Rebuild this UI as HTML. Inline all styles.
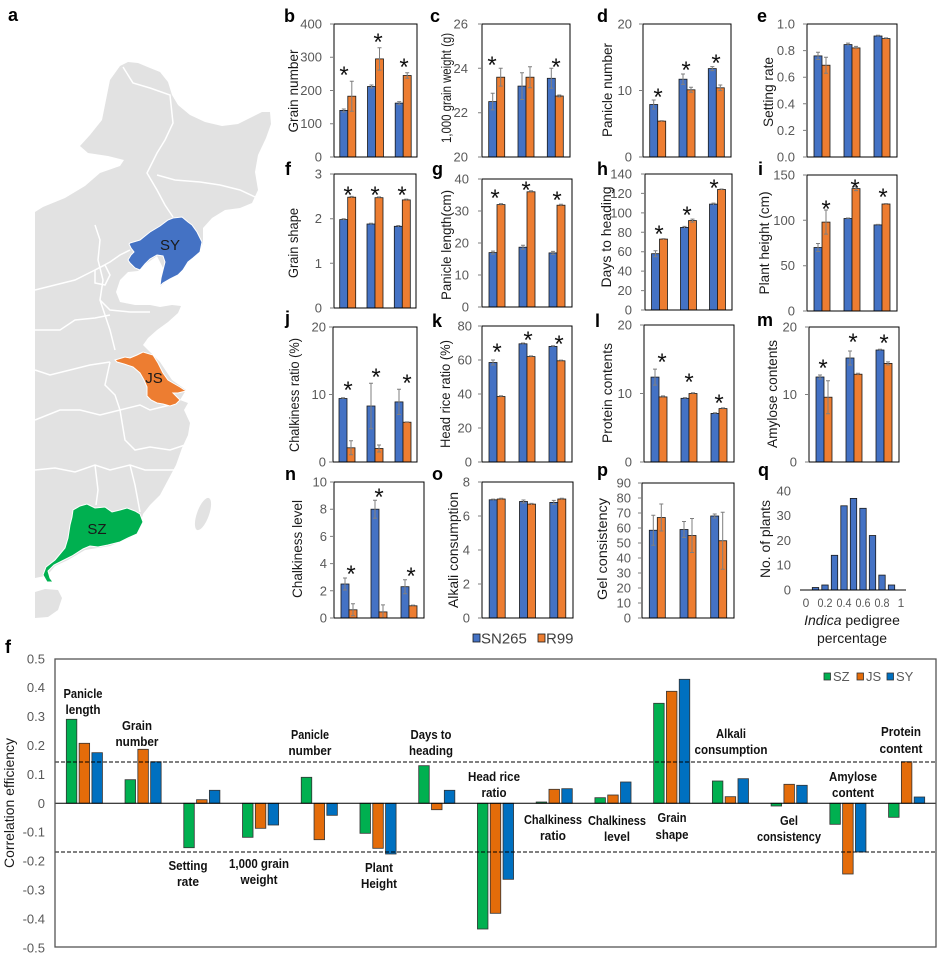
<!DOCTYPE html>
<html><head><meta charset="utf-8"><style>
html,body{margin:0;padding:0;background:#fff;}
svg{display:block;font-family:"Liberation Sans",Arial,sans-serif;}
.tl{font-size:13px;fill:#595959;text-anchor:end;}
.yt{font-size:14px;fill:#1a1a1a;text-anchor:middle;}
.pl{font-size:18px;font-weight:bold;fill:#000;}
.st{font-size:24px;fill:#111;text-anchor:middle;}
.box{fill:none;stroke:#000;stroke-width:1;}
.bl{fill:#4472C4;stroke:#1a1a1a;stroke-width:0.8;}
.or{fill:#ED7D31;stroke:#1a1a1a;stroke-width:0.8;}
.eb{fill:none;stroke:#7f7f7f;stroke-width:1;}
.tk{stroke:#7f7f7f;stroke-width:1;}
.cl{font-size:13px;font-weight:bold;fill:#111;text-anchor:middle;}
.g{fill:#00B050;stroke:#333;stroke-width:0.8;}
.o2{fill:#E46C0A;stroke:#333;stroke-width:0.8;}
.b2{fill:#0070C0;stroke:#333;stroke-width:0.8;}
</style></head><body>
<svg width="944" height="958" viewBox="0 0 944 958" xmlns="http://www.w3.org/2000/svg">
<rect width="944" height="958" fill="#fff"/>

<!-- ===== Map (a) ===== -->
<text class="pl" x="8" y="21">a</text>
<polygon fill="#e2e2e2" points="120,66 128,62 138,63 150,68 160,72 168,82 172,95 178,105 190,115 205,122 222,126 238,124 250,118 262,112 270,112 271,124 266,138 258,155 255,172 258,190 252,203 240,208 225,210 212,218 203,228 203,242 200,252 190,260 180,273 167,280 160,287 163,268 157,256 147,263 138,271 128,272 120,280 116,292 120,302 135,305 150,305 160,307 172,305 181,306 178,313 168,322 157,330 148,338 143,345 150,352 160,362 172,380 186,390 180,400 188,403 184,410 190,423 188,435 182,448 176,465 168,480 160,495 150,505 143,514 140,525 130,538 110,546 85,550 68,560 55,566 50,572 45,576 35,578 35,212 43,207 65,198 85,186 100,173 120,166 124,160 108,156 88,153 80,146 90,135 102,120 106,100 110,80"/>
<polygon fill="#e2e2e2" points="35,592 45,589 58,590 62,598 58,610 48,617 35,618"/>
<ellipse cx="203" cy="514" rx="6" ry="17" transform="rotate(20 203 514)" fill="#e2e2e2"/>
<g fill="none" stroke="#fff" stroke-width="1.5">
<polyline points="123,67 133,83 150,88 170,95 173,123 165,140 157,153 147,173 157,190 165,205 173,217"/>
<polyline points="157,175 175,180 200,182 220,185 240,190 255,197"/>
<polyline points="35,290 55,285 75,280 95,270 110,262 120,255 130,250"/>
<polyline points="95,225 100,240 98,260 103,280 100,300 110,310 130,312 150,312"/>
<polyline points="35,330 60,330 75,320 95,318 110,315"/>
<polyline points="100,300 110,330 115,350"/>
<polyline points="35,370 50,375 70,370 90,365 110,362"/>
<polyline points="110,362 105,385 115,395 120,410 140,405 150,410 170,405"/>
<polyline points="35,420 60,410 80,410 100,415 120,410"/>
<polyline points="120,410 125,440 135,450 150,447 170,450 185,445"/>
<polyline points="35,470 55,468 75,472 95,465 110,470 130,465 145,470 160,470 175,470"/>
<polyline points="95,465 98,490 96,505"/>
<polyline points="130,465 135,485 140,512"/>
<polyline points="95,270 105,265 110,275 105,285 95,283 95,270"/>
</g>
<polygon fill="#4472C4" stroke="#fff" stroke-width="1" points="130,243 140,240 145,236 150,232 160,226 168,220 173,218 182,217 188,222 192,225 197,232 202,242 200,252 193,258 188,262 183,270 178,275 170,279 163,283 160,286 161,278 163,270 165,262 163,256 157,255 150,259 145,264 140,270 135,268 130,263 128,260 131,255 134,252 131,248 129,244"/>
<polygon fill="#ED7D31" stroke="#fff" stroke-width="1" points="115,360 125,357 130,358 137,355 143,352 153,355 158,363 163,373 168,380 173,383 180,387 186,391 178,393 173,393 180,400 176,404 170,406 163,404 157,403 151,400 147,396 147,387 144,380 140,373 133,367 124,364 117,362"/>
<polygon fill="#00B050" stroke="#fff" stroke-width="1" points="73,510 80,506 87,504 95,508 105,507 112,512 120,510 127,508 135,511 140,514 143,522 137,534 128,538 120,542 108,545 98,547 90,546 83,549 72,556 62,561 54,565 48,571 50,578 53,582 47,582 43,575 46,567 55,560 65,548 68,538 70,525 72,517"/>
<text x="170" y="250" font-size="15" text-anchor="middle" fill="#1a1a1a">SY</text>
<text x="154" y="383" font-size="15" text-anchor="middle" fill="#1a1a1a">JS</text>
<text x="97" y="534" font-size="15" text-anchor="middle" fill="#1a1a1a">SZ</text>

<!-- ===== Panel letters ===== -->
<text class="pl" x="284" y="22">b</text>
<text class="pl" x="430" y="22">c</text>
<text class="pl" x="597" y="22">d</text>
<text class="pl" x="757" y="22">e</text>
<text class="pl" x="285" y="175">f</text>
<text class="pl" x="432" y="175">g</text>
<text class="pl" x="597" y="175">h</text>
<text class="pl" x="758" y="175">i</text>
<text class="pl" x="285" y="324">j</text>
<text class="pl" x="432" y="327">k</text>
<text class="pl" x="595" y="327">l</text>
<text class="pl" x="757" y="326">m</text>
<text class="pl" x="285" y="480">n</text>
<text class="pl" x="432" y="480">o</text>
<text class="pl" x="597" y="476">p</text>
<text class="pl" x="758" y="476">q</text>

<!-- ===== Panel b ===== -->
<rect class="bl" x="339.8" y="110.4" width="8" height="46.6"/>
<rect class="bl" x="367.5" y="86.5" width="8" height="70.5"/>
<rect class="bl" x="395.2" y="103.1" width="8" height="53.9"/>
<rect class="or" x="347.8" y="96.2" width="8" height="60.8"/>
<rect class="or" x="375.5" y="58.9" width="8" height="98.1"/>
<rect class="or" x="403.2" y="75.5" width="8" height="81.5"/>
<path class="eb" d="M343.8 109V112M341.8 109h4M341.8 112h4M371.5 85V88M369.5 85h4M369.5 88h4M399.2 101.6V104.6M397.2 101.6h4M397.2 104.6h4M351.8 81.2V111.2M349.8 81.2h4M349.8 111.2h4M379.5 47.7V70.1M377.5 47.7h4M377.5 70.1h4M407.2 72.7V78.3M405.2 72.7h4M405.2 78.3h4"/>
<rect class="box" x="334" y="24" width="83" height="133"/>
<path class="tk" d="M330 24h4M330 57.25h4M330 90.5h4M330 123.75h4M330 157h4"/>
<text class="tl" x="322" y="28.5">400</text><text class="tl" x="322" y="61.7">300</text><text class="tl" x="322" y="95">200</text><text class="tl" x="322" y="128.2">100</text><text class="tl" x="322" y="161.5">0</text>
<text class="yt" transform="translate(298,91) rotate(-90)" textLength="83" lengthAdjust="spacingAndGlyphs">Grain number</text>
<text class="st" x="344" y="83">*</text><text class="st" x="378" y="50">*</text><text class="st" x="404" y="75">*</text>

<!-- ===== Panel c ===== -->
<rect class="bl" x="488.7" y="101.6" width="8" height="55.4"/>
<rect class="bl" x="518" y="86.1" width="8" height="70.9"/>
<rect class="bl" x="547.3" y="78.3" width="8" height="78.7"/>
<rect class="or" x="496.7" y="77.2" width="8" height="79.8"/>
<rect class="or" x="526" y="77.2" width="8" height="79.8"/>
<rect class="or" x="555.3" y="96" width="8" height="61"/>
<path class="eb" d="M492.7 93.3V109.9M490.7 93.3h4M490.7 109.9h4M522 72.7V99.5M520 72.7h4M520 99.5h4M551.3 68.3V88.3M549.3 68.3h4M549.3 88.3h4M500.7 68.3V86.1M498.7 68.3h4M498.7 86.1h4M530 66.7V87.7M528 66.7h4M528 87.7h4M559.3 95V97M557.3 95h4M557.3 97h4"/>
<rect class="box" x="482" y="24" width="88" height="133"/>
<path class="tk" d="M478 24h4M478 68.3h4M478 112.7h4M478 157h4"/>
<text class="tl" x="468" y="28.5">26</text><text class="tl" x="468" y="72.8">24</text><text class="tl" x="468" y="117.2">22</text><text class="tl" x="468" y="161.5">20</text>
<text class="yt" transform="translate(451,88) rotate(-90)" textLength="110" lengthAdjust="spacingAndGlyphs">1,000 grain weight (g)</text>
<text class="st" x="492" y="73">*</text><text class="st" x="556" y="75">*</text>

<!-- ===== Panel d ===== -->
<rect class="bl" x="649.7" y="104.5" width="8" height="52.5"/>
<rect class="bl" x="679" y="79.2" width="8" height="77.8"/>
<rect class="bl" x="708.3" y="68.6" width="8" height="88.4"/>
<rect class="or" x="657.7" y="121.1" width="8" height="35.9"/>
<rect class="or" x="687" y="89.8" width="8" height="67.2"/>
<rect class="or" x="716.3" y="87.8" width="8" height="69.2"/>
<path class="eb" d="M653.7 100V109M651.7 100h4M651.7 109h4M683 74V84.4M681 74h4M681 84.4h4M712.3 66.6V70.6M710.3 66.6h4M710.3 70.6h4M661.7 120.6V121.6M659.7 120.6h4M691 87.3V92.3M689 87.3h4M689 92.3h4M720.3 85V90.6M718.3 85h4M718.3 90.6h4"/>
<rect class="box" x="643" y="24" width="88" height="133"/>
<path class="tk" d="M639 24h4M639 90.5h4M639 157h4"/>
<text class="tl" x="632" y="28.5">20</text><text class="tl" x="632" y="95">10</text><text class="tl" x="632" y="161.5">0</text>
<text class="yt" transform="translate(612,90) rotate(-90)" textLength="94" lengthAdjust="spacingAndGlyphs">Panicle number</text>
<text class="st" x="658" y="105">*</text><text class="st" x="686" y="78">*</text><text class="st" x="716" y="71">*</text>

<!-- ===== Panel e ===== -->
<rect class="bl" x="814" y="55.9" width="8" height="101.1"/>
<rect class="bl" x="844" y="44.6" width="8" height="112.4"/>
<rect class="bl" x="874" y="36" width="8" height="121"/>
<rect class="or" x="822" y="65.2" width="8" height="91.8"/>
<rect class="or" x="852" y="47.9" width="8" height="109.1"/>
<rect class="or" x="882" y="38.6" width="8" height="118.4"/>
<path class="eb" d="M818 52.3V59.5M816 52.3h4M816 59.5h4M848 43.1V46.1M846 43.1h4M878 35.3V36.7M876 35.3h4M826 57.2V73.2M824 57.2h4M824 73.2h4M856 46.4V49.4M854 46.4h4M886 37.9V39.3M884 37.9h4"/>
<rect class="box" x="807" y="24" width="90" height="133"/>
<path class="tk" d="M803 24h4M803 50.6h4M803 77.2h4M803 103.8h4M803 130.4h4M803 157h4"/>
<text class="tl" x="795" y="28.5">1.0</text><text class="tl" x="795" y="55.1">0.8</text><text class="tl" x="795" y="81.7">0.6</text><text class="tl" x="795" y="108.3">0.4</text><text class="tl" x="795" y="134.9">0.2</text><text class="tl" x="795" y="161.5">0.0</text>
<text class="yt" transform="translate(773,92) rotate(-90)" textLength="70" lengthAdjust="spacingAndGlyphs">Setting rate</text>

<!-- ===== Panel f ===== -->
<rect class="bl" x="339.7" y="219.6" width="8" height="88.4"/>
<rect class="bl" x="367" y="224" width="8" height="84"/>
<rect class="bl" x="394.3" y="226.3" width="8" height="81.7"/>
<rect class="or" x="347.7" y="197.2" width="8" height="110.8"/>
<rect class="or" x="375" y="197.7" width="8" height="110.3"/>
<rect class="or" x="402.3" y="199.9" width="8" height="108.1"/>
<path class="eb" d="M343.7 218.8V220.4M341.7 218.8h4M371 223.2V224.8M369 223.2h4M398.3 225.5V227.1M396.3 225.5h4M351.7 196.4V198M349.7 196.4h4M379 196.9V198.5M377 196.9h4M406.3 199.1V200.7M404.3 199.1h4"/>
<rect class="box" x="334" y="174" width="82" height="134"/>
<path class="tk" d="M330 174h4M330 218.7h4M330 263.3h4M330 308h4"/>
<text class="tl" x="322" y="178.5">3</text><text class="tl" x="322" y="223.2">2</text><text class="tl" x="322" y="267.8">1</text><text class="tl" x="322" y="312.5">0</text>
<text class="yt" transform="translate(298,243) rotate(-90)" textLength="70" lengthAdjust="spacingAndGlyphs">Grain shape</text>
<text class="st" x="348" y="203">*</text><text class="st" x="375" y="203">*</text><text class="st" x="402" y="203">*</text>

<!-- ===== Panel g ===== -->
<rect class="bl" x="489" y="252.6" width="8" height="54.4"/>
<rect class="bl" x="519" y="247.2" width="8" height="59.8"/>
<rect class="bl" x="549" y="252.9" width="8" height="54.1"/>
<rect class="or" x="497" y="204.6" width="8" height="102.4"/>
<rect class="or" x="527" y="191.8" width="8" height="115.2"/>
<rect class="or" x="557" y="205.2" width="8" height="101.8"/>
<path class="eb" d="M493 251.1V254.1M491 251.1h4M491 254.1h4M523 245.2V249.2M521 245.2h4M521 249.2h4M553 251.4V254.4M551 251.4h4M551 254.4h4M501 203.6V205.6M499 203.6h4M531 190.8V192.8M529 190.8h4M561 204.2V206.2M559 204.2h4"/>
<rect class="box" x="482" y="179" width="90" height="128"/>
<path class="tk" d="M478 179h4M478 211h4M478 243h4M478 275h4M478 307h4"/>
<text class="tl" x="469" y="183.5">40</text><text class="tl" x="469" y="215.5">30</text><text class="tl" x="469" y="247.5">20</text><text class="tl" x="469" y="279.5">10</text><text class="tl" x="469" y="311.5">0</text>
<text class="yt" transform="translate(451,245) rotate(-90)" textLength="110" lengthAdjust="spacingAndGlyphs">Panicle length(cm)</text>
<text class="st" x="495" y="206">*</text><text class="st" x="526" y="198">*</text><text class="st" x="557" y="208">*</text>

<!-- ===== Panel h ===== -->
<rect class="bl" x="651.5" y="253.7" width="8" height="56.3"/>
<rect class="bl" x="680.5" y="227.4" width="8" height="82.6"/>
<rect class="bl" x="709.5" y="204.1" width="8" height="105.9"/>
<rect class="or" x="659.5" y="239.1" width="8" height="70.9"/>
<rect class="or" x="688.5" y="220.6" width="8" height="89.4"/>
<rect class="or" x="717.5" y="189.5" width="8" height="120.5"/>
<path class="eb" d="M655.5 250.7V256.7M653.5 250.7h4M653.5 256.7h4M684.5 226.4V228.4M682.5 226.4h4M713.5 203.1V205.1M711.5 203.1h4M663.5 238.6V239.6M661.5 238.6h4M692.5 219.1V222.1M690.5 219.1h4M690.5 222.1h4M721.5 189V190M719.5 189h4"/>
<rect class="box" x="645" y="174" width="87" height="136"/>
<path class="tk" d="M641 174h4M641 193.4h4M641 212.9h4M641 232.3h4M641 251.7h4M641 271.1h4M641 290.6h4M641 310h4"/>
<text class="tl" x="632" y="178.5">140</text><text class="tl" x="632" y="197.9">120</text><text class="tl" x="632" y="217.4">100</text><text class="tl" x="632" y="236.8">80</text><text class="tl" x="632" y="256.2">60</text><text class="tl" x="632" y="275.6">40</text><text class="tl" x="632" y="295.1">20</text><text class="tl" x="632" y="314.5">0</text>
<text class="yt" transform="translate(611,237) rotate(-90)" textLength="101" lengthAdjust="spacingAndGlyphs">Days to heading</text>
<text class="st" x="659" y="242">*</text><text class="st" x="687" y="223">*</text><text class="st" x="714" y="196">*</text>

<!-- ===== Panel i ===== -->
<rect class="bl" x="814" y="247.5" width="8" height="63.5"/>
<rect class="bl" x="844" y="218.5" width="8" height="92.5"/>
<rect class="bl" x="874" y="224.9" width="8" height="86.1"/>
<rect class="or" x="822" y="222.1" width="8" height="88.9"/>
<rect class="or" x="852" y="188.6" width="8" height="122.4"/>
<rect class="or" x="882" y="204" width="8" height="107"/>
<path class="eb" d="M818 243.5V251.5M816 243.5h4M816 251.5h4M848 218V219M846 218h4M878 224.4V225.4M876 224.4h4M826 210V234.1M824 210h4M824 234.1h4M856 186.6V190.6M854 186.6h4M854 190.6h4M886 203.5V204.5M884 203.5h4"/>
<rect class="box" x="807" y="175" width="90" height="136"/>
<path class="tk" d="M803 175h4M803 220.3h4M803 265.7h4M803 311h4"/>
<text class="tl" x="795" y="179.5">150</text><text class="tl" x="795" y="224.8">100</text><text class="tl" x="795" y="270.2">50</text><text class="tl" x="795" y="315.5">0</text>
<text class="yt" transform="translate(769,243) rotate(-90)" textLength="103" lengthAdjust="spacingAndGlyphs">Plant height (cm)</text>
<text class="st" x="826" y="217">*</text><text class="st" x="855" y="196">*</text><text class="st" x="883" y="205">*</text>

<!-- ===== Panel j ===== -->
<rect class="bl" x="339" y="398.5" width="8" height="63.5"/>
<rect class="bl" x="367" y="406" width="8" height="56"/>
<rect class="bl" x="395" y="401.9" width="8" height="60.1"/>
<rect class="or" x="347" y="447.8" width="8" height="14.2"/>
<rect class="or" x="375" y="448.5" width="8" height="13.5"/>
<rect class="or" x="403" y="422.2" width="8" height="39.8"/>
<path class="eb" d="M343 397.8V399.2M341 397.8h4M371 383.3V428.7M369 383.3h4M369 428.7h4M399 389.3V414.5M397 389.3h4M397 414.5h4M351 440.8V454.8M349 440.8h4M349 454.8h4M379 445V452M377 445h4M377 452h4M407 421.9V422.5M405 421.9h4"/>
<rect class="box" x="333" y="327" width="84" height="135"/>
<path class="tk" d="M329 327h4M329 394.5h4M329 462h4"/>
<text class="tl" x="326" y="331.5">20</text><text class="tl" x="326" y="399">10</text><text class="tl" x="326" y="466.5">0</text>
<text class="yt" transform="translate(299,395) rotate(-90)" textLength="114" lengthAdjust="spacingAndGlyphs">Chalkiness ratio (%)</text>
<text class="st" x="348" y="398">*</text><text class="st" x="376" y="385">*</text><text class="st" x="407" y="391">*</text>

<!-- ===== Panel k ===== -->
<rect class="bl" x="489" y="362.5" width="8" height="99.5"/>
<rect class="bl" x="519" y="343.8" width="8" height="118.2"/>
<rect class="bl" x="549" y="346.4" width="8" height="115.6"/>
<rect class="or" x="497" y="396.5" width="8" height="65.5"/>
<rect class="or" x="527" y="356.6" width="8" height="105.4"/>
<rect class="or" x="557" y="360.8" width="8" height="101.2"/>
<path class="eb" d="M493 360V365M491 360h4M491 365h4M523 343V344.6M521 343h4M553 345.7V347.1M551 345.7h4M501 395.8V397.2M499 395.8h4M531 355.9V357.3M529 355.9h4M561 360.1V361.5M559 360.1h4"/>
<rect class="box" x="482" y="326" width="90" height="136"/>
<path class="tk" d="M478 326h4M478 360h4M478 394h4M478 428h4M478 462h4"/>
<text class="tl" x="472" y="330.5">80</text><text class="tl" x="472" y="364.5">60</text><text class="tl" x="472" y="398.5">40</text><text class="tl" x="472" y="432.5">20</text><text class="tl" x="472" y="466.5">0</text>
<text class="yt" transform="translate(450,394) rotate(-90)" textLength="108" lengthAdjust="spacingAndGlyphs">Head rice ratio (%)</text>
<text class="st" x="497" y="360">*</text><text class="st" x="528" y="348">*</text><text class="st" x="559" y="352">*</text>

<!-- ===== Panel l ===== -->
<rect class="bl" x="651" y="377.1" width="8" height="84.9"/>
<rect class="bl" x="681" y="398.3" width="8" height="63.7"/>
<rect class="bl" x="711" y="413.4" width="8" height="48.6"/>
<rect class="or" x="659" y="396.9" width="8" height="65.1"/>
<rect class="or" x="689" y="393.5" width="8" height="68.5"/>
<rect class="or" x="719" y="408.6" width="8" height="53.4"/>
<path class="eb" d="M655 369.1V385.1M653 369.1h4M653 385.1h4M685 397.6V399M683 397.6h4M715 412.7V414.1M713 412.7h4M663 395.9V397.9M661 395.9h4M693 392.8V394.2M691 392.8h4M723 407.9V409.3M721 407.9h4"/>
<rect class="box" x="644" y="325" width="90" height="137"/>
<path class="tk" d="M640 325h4M640 393.5h4M640 462h4"/>
<text class="tl" x="632" y="329.5">20</text><text class="tl" x="632" y="398">10</text><text class="tl" x="632" y="466.5">0</text>
<text class="yt" transform="translate(612,393) rotate(-90)" textLength="100" lengthAdjust="spacingAndGlyphs">Protein contents</text>
<text class="st" x="662" y="370">*</text><text class="st" x="689" y="390">*</text><text class="st" x="719" y="411">*</text>

<!-- ===== Panel m ===== -->
<rect class="bl" x="816" y="377" width="8" height="85"/>
<rect class="bl" x="846" y="358" width="8" height="104"/>
<rect class="bl" x="876" y="350" width="8" height="112"/>
<rect class="or" x="824" y="397.2" width="8" height="64.8"/>
<rect class="or" x="854" y="374.2" width="8" height="87.8"/>
<rect class="or" x="884" y="363.4" width="8" height="98.6"/>
<path class="eb" d="M820 375V379M818 375h4M818 379h4M850 351V365M848 351h4M848 365h4M880 349.3V350.7M878 349.3h4M828 380.7V413.7M826 380.7h4M826 413.7h4M858 373.2V375.2M856 373.2h4M888 361.9V364.9M886 361.9h4M886 364.9h4"/>
<rect class="box" x="809" y="327" width="90" height="135"/>
<path class="tk" d="M805 327h4M805 394.5h4M805 462h4"/>
<text class="tl" x="797" y="331.5">20</text><text class="tl" x="797" y="399">10</text><text class="tl" x="797" y="466.5">0</text>
<text class="yt" transform="translate(777,394) rotate(-90)" textLength="108" lengthAdjust="spacingAndGlyphs">Amylose contents</text>
<text class="st" x="823" y="376">*</text><text class="st" x="853" y="350">*</text><text class="st" x="884" y="351">*</text>

<!-- ===== Panel n ===== -->
<rect class="bl" x="341" y="584" width="8" height="34"/>
<rect class="bl" x="371" y="509.2" width="8" height="108.8"/>
<rect class="bl" x="401" y="586.7" width="8" height="31.3"/>
<rect class="or" x="349" y="609.8" width="8" height="8.2"/>
<rect class="or" x="379" y="611.9" width="8" height="6.1"/>
<rect class="or" x="409" y="605.8" width="8" height="12.2"/>
<path class="eb" d="M345 578V590M343 578h4M343 590h4M375 500.2V518.2M373 500.2h4M373 518.2h4M405 579.7V593.7M403 579.7h4M403 593.7h4M353 603.8V615.8M351 603.8h4M351 615.8h4M383 604.9V618M381 604.9h4M413 605.1V606.5M411 605.1h4"/>
<rect class="box" x="334" y="482" width="90" height="136"/>
<path class="tk" d="M330 482h4M330 509.2h4M330 536.4h4M330 563.6h4M330 590.8h4M330 618h4"/>
<text class="tl" x="327" y="486.5">10</text><text class="tl" x="327" y="513.7">8</text><text class="tl" x="327" y="540.9">6</text><text class="tl" x="327" y="568.1">4</text><text class="tl" x="327" y="595.3">2</text><text class="tl" x="327" y="622.5">0</text>
<text class="yt" transform="translate(302,549) rotate(-90)" textLength="98" lengthAdjust="spacingAndGlyphs">Chalkiness level</text>
<text class="st" x="351" y="582">*</text><text class="st" x="379" y="505">*</text><text class="st" x="411" y="584">*</text>

<!-- ===== Panel o ===== -->
<rect class="bl" x="489.2" y="499.8" width="8" height="118.2"/>
<rect class="bl" x="519.5" y="501.5" width="8" height="116.5"/>
<rect class="bl" x="549.8" y="502.4" width="8" height="115.6"/>
<rect class="or" x="497.2" y="499" width="8" height="119"/>
<rect class="or" x="527.5" y="504.1" width="8" height="113.9"/>
<rect class="or" x="557.8" y="499" width="8" height="119"/>
<path class="eb" d="M493.2 499.1V500.5M491.2 499.1h4M523.5 500V503M521.5 500h4M521.5 503h4M553.8 500.4V504.4M551.8 500.4h4M551.8 504.4h4M501.2 498.3V499.7M499.2 498.3h4M531.5 503.4V504.8M529.5 503.4h4M561.8 498.3V499.7M559.8 498.3h4"/>
<rect class="box" x="482" y="482" width="91" height="136"/>
<path class="tk" d="M478 482h4M478 516h4M478 550h4M478 584h4M478 618h4"/>
<text class="tl" x="470" y="486.5">8</text><text class="tl" x="470" y="520.5">6</text><text class="tl" x="470" y="554.5">4</text><text class="tl" x="470" y="588.5">2</text><text class="tl" x="470" y="622.5">0</text>
<text class="yt" transform="translate(458,550) rotate(-90)" textLength="116" lengthAdjust="spacingAndGlyphs">Alkali consumption</text>
<!-- legend -->
<rect class="bl" x="473" y="634" width="7" height="8"/>
<text x="481" y="643.5" font-size="15" fill="#404040">SN265</text>
<rect class="or" x="538" y="634" width="7" height="8"/>
<text x="546" y="643.5" font-size="15" fill="#404040">R99</text>

<!-- ===== Panel p ===== -->
<rect class="bl" x="649.3" y="530.25" width="8" height="87.75"/>
<rect class="bl" x="680" y="529.5" width="8" height="88.5"/>
<rect class="bl" x="710.7" y="516" width="8" height="102"/>
<rect class="or" x="657.3" y="517.5" width="8" height="100.5"/>
<rect class="or" x="688" y="535.5" width="8" height="82.5"/>
<rect class="or" x="718.7" y="540.75" width="8" height="77.25"/>
<path class="eb" d="M653.3 515.3V545.3M651.3 515.3h4M651.3 545.3h4M684 521.5V537.5M682 521.5h4M682 537.5h4M714.7 514V518M712.7 514h4M712.7 518h4M661.3 504V531M659.3 504h4M659.3 531h4M692 518.5V552.5M690 518.5h4M690 552.5h4M722.7 512.3V569.2M720.7 512.3h4M720.7 569.2h4"/>
<rect class="box" x="642" y="483" width="92" height="135"/>
<path class="tk" d="M638 483h4M638 498h4M638 513h4M638 528h4M638 543h4M638 558h4M638 573h4M638 588h4M638 603h4M638 618h4"/>
<text class="tl" x="631" y="487.5">90</text><text class="tl" x="631" y="502.5">80</text><text class="tl" x="631" y="517.5">70</text><text class="tl" x="631" y="532.5">60</text><text class="tl" x="631" y="547.5">50</text><text class="tl" x="631" y="562.5">40</text><text class="tl" x="631" y="577.5">30</text><text class="tl" x="631" y="592.5">20</text><text class="tl" x="631" y="607.5">10</text><text class="tl" x="631" y="622.5">0</text>
<text class="yt" transform="translate(607,549) rotate(-90)" textLength="102" lengthAdjust="spacingAndGlyphs">Gel consistency</text>

<!-- ===== Panel q ===== -->
<rect class="bl" x="812.3" y="587.5" width="6.4" height="2.5"/>
<rect class="bl" x="821.8" y="585" width="6.4" height="5"/>
<rect class="bl" x="831.3" y="555.3" width="6.4" height="34.7"/>
<rect class="bl" x="840.8" y="505.8" width="6.4" height="84.2"/>
<rect class="bl" x="850.3" y="498.4" width="6.4" height="91.6"/>
<rect class="bl" x="859.8" y="508.3" width="6.4" height="81.7"/>
<rect class="bl" x="869.3" y="535.5" width="6.4" height="54.5"/>
<rect class="bl" x="878.8" y="575.1" width="6.4" height="14.9"/>
<rect class="bl" x="888.3" y="585" width="6.4" height="5"/>
<path d="M800 590H906" stroke="#000" stroke-width="1"/>
<text class="tl" x="791" y="495.5">40</text><text class="tl" x="791" y="520.2">30</text><text class="tl" x="791" y="545">20</text><text class="tl" x="791" y="569.7">10</text><text class="tl" x="791" y="594.5">0</text>
<g font-size="12" fill="#595959" text-anchor="middle">
<text x="806" y="607">0</text>
<text x="825" y="607" textLength="15" lengthAdjust="spacingAndGlyphs">0.2</text>
<text x="844" y="607" textLength="15" lengthAdjust="spacingAndGlyphs">0.4</text>
<text x="863" y="607" textLength="15" lengthAdjust="spacingAndGlyphs">0.6</text>
<text x="882" y="607" textLength="15" lengthAdjust="spacingAndGlyphs">0.8</text>
<text x="901" y="607">1</text>
</g>
<text class="yt" transform="translate(770,539) rotate(-90)" textLength="78" lengthAdjust="spacingAndGlyphs">No. of plants</text>
<text x="852" y="625" font-size="14" fill="#1a1a1a" text-anchor="middle"><tspan font-style="italic">Indica</tspan> pedigree</text>
<text x="852" y="643" font-size="14" fill="#1a1a1a" text-anchor="middle">percentage</text>

<!-- ===== Bottom chart ===== -->
<text class="pl" x="5" y="653">f</text>
<g font-size="13" fill="#595959" text-anchor="end">
<text x="45" y="663.3">0.5</text><text x="45" y="692.2">0.4</text><text x="45" y="721.1">0.3</text><text x="45" y="750">0.2</text><text x="45" y="778.9">0.1</text><text x="45" y="807.8">0</text><text x="45" y="836.7">-0.1</text><text x="45" y="865.6">-0.2</text><text x="45" y="894.5">-0.3</text><text x="45" y="923.4">-0.4</text><text x="45" y="952.3">-0.5</text>
</g>
<text class="yt" transform="translate(14,803) rotate(-90)" textLength="130" lengthAdjust="spacingAndGlyphs">Correlation efficiency</text>

<!-- bars -->
<rect class="g" x="66.32" y="719.3" width="10.5" height="84"/>
<rect class="o2" x="79.12" y="743.3" width="10.5" height="60"/>
<rect class="b2" x="91.92" y="752.7" width="10.5" height="50.6"/>
<rect class="g" x="125.05" y="779.7" width="10.5" height="23.6"/>
<rect class="o2" x="137.85" y="749.3" width="10.5" height="54"/>
<rect class="b2" x="150.65" y="761.7" width="10.5" height="41.6"/>
<rect class="g" x="183.78" y="803.3" width="10.5" height="44.4"/>
<rect class="o2" x="196.58" y="799.7" width="10.5" height="3.6"/>
<rect class="b2" x="209.38" y="790.3" width="10.5" height="13"/>
<rect class="g" x="242.52" y="803.3" width="10.5" height="34"/>
<rect class="o2" x="255.32" y="803.3" width="10.5" height="25"/>
<rect class="b2" x="268.12" y="803.3" width="10.5" height="21.7"/>
<rect class="g" x="301.25" y="777.3" width="10.5" height="26"/>
<rect class="o2" x="314.05" y="803.3" width="10.5" height="36.4"/>
<rect class="b2" x="326.85" y="803.3" width="10.5" height="12"/>
<rect class="g" x="359.98" y="803.3" width="10.5" height="30"/>
<rect class="o2" x="372.78" y="803.3" width="10.5" height="45"/>
<rect class="b2" x="385.58" y="803.3" width="10.5" height="50.7"/>
<rect class="g" x="418.72" y="765.7" width="10.5" height="37.6"/>
<rect class="o2" x="431.52" y="803.3" width="10.5" height="6.4"/>
<rect class="b2" x="444.32" y="790.3" width="10.5" height="13"/>
<rect class="g" x="477.45" y="803.3" width="10.5" height="125.7"/>
<rect class="o2" x="490.25" y="803.3" width="10.5" height="110"/>
<rect class="b2" x="503.05" y="803.3" width="10.5" height="76"/>
<rect class="g" x="536.18" y="802" width="10.5" height="1.3"/>
<rect class="o2" x="548.98" y="789.3" width="10.5" height="14"/>
<rect class="b2" x="561.78" y="788.7" width="10.5" height="14.6"/>
<rect class="g" x="594.92" y="797.7" width="10.5" height="5.6"/>
<rect class="o2" x="607.72" y="795" width="10.5" height="8.3"/>
<rect class="b2" x="620.52" y="782" width="10.5" height="21.3"/>
<rect class="g" x="653.65" y="703.3" width="10.5" height="100"/>
<rect class="o2" x="666.45" y="691.3" width="10.5" height="112"/>
<rect class="b2" x="679.25" y="679.3" width="10.5" height="124"/>
<rect class="g" x="712.38" y="781" width="10.5" height="22.3"/>
<rect class="o2" x="725.18" y="796.7" width="10.5" height="6.6"/>
<rect class="b2" x="737.98" y="778.7" width="10.5" height="24.6"/>
<rect class="g" x="771.12" y="803.3" width="10.5" height="2.7"/>
<rect class="o2" x="783.92" y="784.3" width="10.5" height="19"/>
<rect class="b2" x="796.72" y="785.3" width="10.5" height="18"/>
<rect class="g" x="829.85" y="803.3" width="10.5" height="21"/>
<rect class="o2" x="842.65" y="803.3" width="10.5" height="70.7"/>
<rect class="b2" x="855.45" y="803.3" width="10.5" height="48.7"/>
<rect class="g" x="888.58" y="803.3" width="10.5" height="14"/>
<rect class="o2" x="901.38" y="761.7" width="10.5" height="41.6"/>
<rect class="b2" x="914.18" y="797" width="10.5" height="6.3"/>

<path d="M55 803.3H936" stroke="#000" stroke-width="1"/>
<path d="M55 762H936M55 852H936" stroke="#000" stroke-width="1" stroke-dasharray="4 2"/>
<rect x="55" y="659" width="881" height="288" fill="none" stroke="#555" stroke-width="1.3"/>

<!-- category labels -->
<text class="cl" x="83" y="698" textLength="39" lengthAdjust="spacingAndGlyphs">Panicle</text>
<text class="cl" x="83" y="714" textLength="35" lengthAdjust="spacingAndGlyphs">length</text>
<text class="cl" x="137" y="730" textLength="30" lengthAdjust="spacingAndGlyphs">Grain</text>
<text class="cl" x="137" y="746" textLength="43" lengthAdjust="spacingAndGlyphs">number</text>
<text class="cl" x="188" y="870" textLength="39" lengthAdjust="spacingAndGlyphs">Setting</text>
<text class="cl" x="188" y="886" textLength="22" lengthAdjust="spacingAndGlyphs">rate</text>
<text class="cl" x="259" y="868" textLength="60" lengthAdjust="spacingAndGlyphs">1,000 grain</text>
<text class="cl" x="259" y="884" textLength="37" lengthAdjust="spacingAndGlyphs">weight</text>
<text class="cl" x="310" y="739" textLength="38" lengthAdjust="spacingAndGlyphs">Panicle</text>
<text class="cl" x="310" y="755" textLength="43" lengthAdjust="spacingAndGlyphs">number</text>
<text class="cl" x="379" y="872" textLength="28" lengthAdjust="spacingAndGlyphs">Plant</text>
<text class="cl" x="379" y="888" textLength="36" lengthAdjust="spacingAndGlyphs">Height</text>
<text class="cl" x="431" y="739" textLength="41" lengthAdjust="spacingAndGlyphs">Days to</text>
<text class="cl" x="431" y="755" textLength="44" lengthAdjust="spacingAndGlyphs">heading</text>
<text class="cl" x="494" y="781" textLength="52" lengthAdjust="spacingAndGlyphs">Head rice</text>
<text class="cl" x="494" y="797" textLength="25" lengthAdjust="spacingAndGlyphs">ratio</text>
<text class="cl" x="553" y="824" textLength="58" lengthAdjust="spacingAndGlyphs">Chalkiness</text>
<text class="cl" x="553" y="840" textLength="26" lengthAdjust="spacingAndGlyphs">ratio</text>
<text class="cl" x="617" y="825" textLength="58" lengthAdjust="spacingAndGlyphs">Chalkiness</text>
<text class="cl" x="617" y="841" textLength="26" lengthAdjust="spacingAndGlyphs">level</text>
<text class="cl" x="672" y="822" textLength="29" lengthAdjust="spacingAndGlyphs">Grain</text>
<text class="cl" x="672" y="839" textLength="33" lengthAdjust="spacingAndGlyphs">shape</text>
<text class="cl" x="731" y="738" textLength="30" lengthAdjust="spacingAndGlyphs">Alkali</text>
<text class="cl" x="731" y="754" textLength="73" lengthAdjust="spacingAndGlyphs">consumption</text>
<text class="cl" x="789" y="825" textLength="18" lengthAdjust="spacingAndGlyphs">Gel</text>
<text class="cl" x="789" y="841" textLength="64" lengthAdjust="spacingAndGlyphs">consistency</text>
<text class="cl" x="853" y="781" textLength="48" lengthAdjust="spacingAndGlyphs">Amylose</text>
<text class="cl" x="853" y="797" textLength="42" lengthAdjust="spacingAndGlyphs">content</text>
<text class="cl" x="901" y="736" textLength="40" lengthAdjust="spacingAndGlyphs">Protein</text>
<text class="cl" x="901" y="753" textLength="43" lengthAdjust="spacingAndGlyphs">content</text>

<!-- legend SZ JS SY -->
<rect class="g" x="824" y="673" width="6.5" height="7"/>
<text x="833" y="681" font-size="13" fill="#595959">SZ</text>
<rect class="o2" x="857" y="673" width="6.5" height="7"/>
<text x="866" y="681" font-size="13" fill="#595959">JS</text>
<rect class="b2" x="887" y="673" width="6.5" height="7"/>
<text x="896" y="681" font-size="13" fill="#595959">SY</text>
</svg>
</body></html>
